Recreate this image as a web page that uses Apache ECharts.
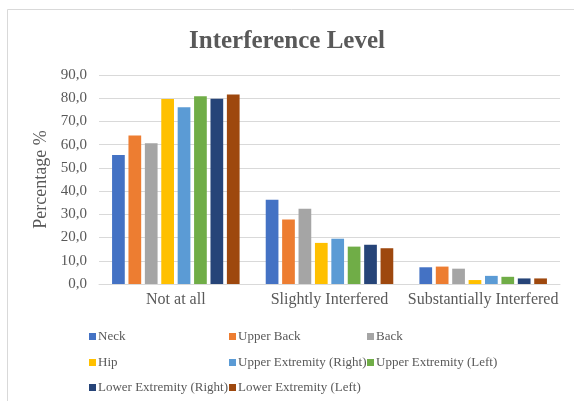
<!DOCTYPE html>
<html>
<head>
<meta charset="utf-8">
<script src="https://cdn.jsdelivr.net/npm/echarts@6/dist/echarts.min.js"></script>
<style>
  html, body { margin: 0; padding: 0; background: #fff; }
  #chart { width: 574px; height: 401px; }
</style>
</head>
<body>
<div id="chart"></div>
<script>
// Interference level by body region (percentage of respondents)
const categories = ['Not at all', 'Slightly Interfered', 'Substantially Interfered'];
const seriesNames = ['Neck', 'Upper Back', 'Back', 'Hip', 'Upper Extremity (Right)',
  'Upper Extremity (Left)', 'Lower Extremity (Right)', 'Lower Extremity (Left)'];

const neck = [55.6, 36.3, 7.2];
const upperBack = [63.9, 27.8, 7.5];
const back = [60.6, 32.4, 6.6];
const hip = [79.7, 17.7, 1.7];
const upperExtremityRight = [76.1, 19.5, 3.5];
const upperExtremityLeft = [80.8, 16.1, 3.1];
const lowerExtremityRight = [79.8, 16.9, 2.4];
const lowerExtremityLeft = [81.6, 15.4, 2.4];

const yTicks = { min: 0, max: 90, interval: 10 };

const values = [neck, upperBack, back, hip, upperExtremityRight,
  upperExtremityLeft, lowerExtremityRight, lowerExtremityLeft];
const colors = ['#4472C4', '#ED7D31', '#A5A5A5', '#FFC000', '#5B9BD5',
  '#70AD47', '#264478', '#9E480E'];

const serif = '"Liberation Serif", "DejaVu Serif", serif';
const textGray = '#595959';

// legend laid out as a 3-column grid, one legend component per entry
const legendCols = [84, 224, 362];
const legendRows = [325, 351, 376];
const legends = seriesNames.map((name, i) => ({
  data: [name],
  left: legendCols[i % 3],
  top: legendRows[Math.floor(i / 3)],
  itemWidth: 7,
  itemHeight: 7,
  icon: 'rect',
  itemGap: 0,
  textStyle: { fontFamily: serif, fontSize: 13, color: textGray, padding: [0, 0, 0, -3] },
  selectedMode: false
}));

const chart = echarts.init(document.getElementById('chart'), null, { renderer: 'canvas' });
chart.setOption({
  animation: false,
  backgroundColor: '#fff',
  color: colors,
  graphic: [{
    type: 'rect',
    shape: { x: 7.5, y: 9.5, width: 600, height: 500 },
    style: { fill: 'none', stroke: '#d9d9d9', lineWidth: 1 },
    silent: true
  }],
  title: {
    text: 'Interference Level',
    left: 'center',
    top: 24,
    textStyle: { fontFamily: serif, fontSize: 25, fontWeight: 'bold', color: textGray }
  },
  legend: legends,
  grid: { left: 99, right: 14, top: 75, bottom: 117 },
  xAxis: {
    type: 'category',
    data: categories,
    axisLine: { lineStyle: { color: '#d9d9d9' } },
    axisTick: { show: false },
    axisLabel: { fontFamily: serif, fontSize: 16, color: textGray, margin: 8, interval: 0 }
  },
  yAxis: {
    type: 'value',
    min: yTicks.min,
    max: yTicks.max,
    interval: yTicks.interval,
    name: 'Percentage %',
    nameLocation: 'middle',
    nameGap: 48,
    nameRotate: 90,
    nameTextStyle: { fontFamily: serif, fontSize: 18, color: textGray },
    axisLine: { show: false },
    axisTick: { show: false },
    splitLine: { lineStyle: { color: '#d9d9d9', width: 1 } },
    axisLabel: {
      fontFamily: serif, fontSize: 15, color: textGray, margin: 12,
      formatter: v => v.toFixed(1).replace('.', ',')
    }
  },
  series: seriesNames.map((name, i) => ({
    name,
    type: 'bar',
    data: values[i],
    barCategoryGap: '17%',
    barGap: '29%',
    itemStyle: { color: colors[i] }
  }))
});
</script>
</body>
</html>
